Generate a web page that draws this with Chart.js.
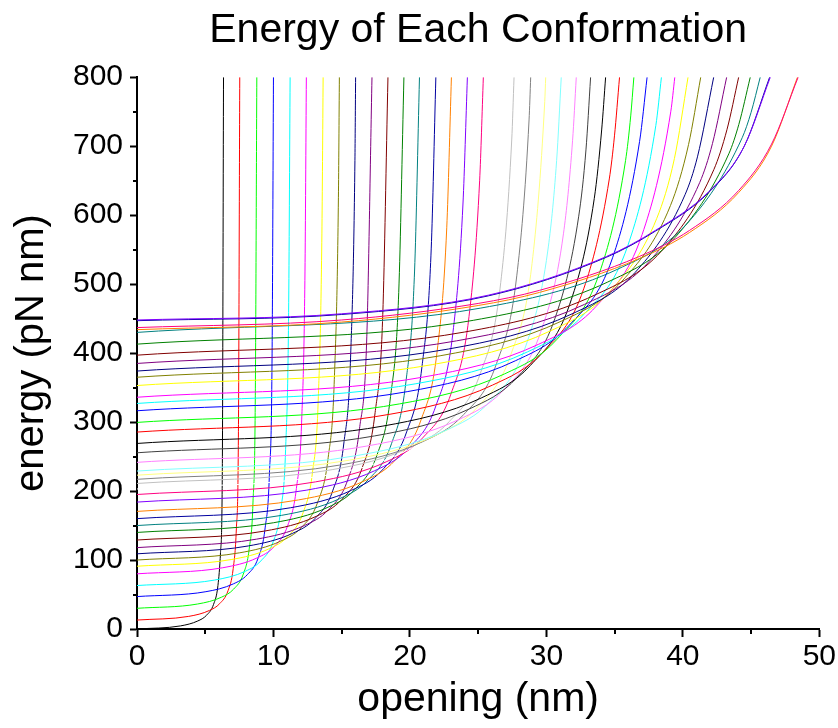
<!DOCTYPE html>
<html>
<head>
<meta charset="utf-8">
<title>Energy of Each Conformation</title>
<script src="https://cdn.jsdelivr.net/npm/chart.js@4.4.1/dist/chart.umd.min.js"></script>
<style>
  html, body { margin: 0; padding: 0; background: #fff; }
  canvas { display: block; }
</style>
</head>
<body>
<canvas id="energy" width="838" height="728"></canvas>
<script>
// energy (pN nm) against opening (nm), one curve per conformation, [opening, energy]
var E01 = [[0,0],[3.19,4.5],[4.46,11.7],[5.10,20.0],[5.61,35.7],[5.93,62.9],[6.12,111],[6.25,223],[6.34,800]];
var E02 = [[0,13],[3.79,18.3],[5.31,26.9],[6.06,36.8],[6.67,55.5],[7.05,87.7],[7.28,145],[7.43,278],[7.53,800]];
var E03 = [[0,30],[4.43,36.2],[6.20,46.2],[7.08,57.8],[7.79,79.6],[8.23,117.3],[8.50,184],[8.67,339],[8.78,800]];
var E04 = [[0,47],[5.05,54.1],[7.07,65.5],[8.08,78.7],[8.89,103.6],[9.39,146.6],[9.70,223],[9.90,400],[10.0,800]];
var E05 = [[0,63],[5.67,70.9],[7.94,83.7],[9.07,98.6],[9.98,126.5],[10.55,174.8],[10.89,260.5],[11.11,459],[11.22,800]];
var E06 = [[0,80],[6.28,88.8],[8.79,103],[10.05,119.4],[11.05,150.3],[11.68,203.8],[12.06,298.8],[12.31,519],[12.41,800]];
var E07 = [[0,91],[6.91,100.7],[9.68,116.3],[11.06,134.4],[12.17,168.5],[12.86,227.4],[13.28,332],[13.55,574],[13.64,800]];
var E08 = [[0,100],[7.53,110.5],[10.54,127.5],[12.05,147.2],[13.25,184.4],[14.01,248.5],[14.46,362],[14.76,626],[14.83,800]];
var E09 = [[0,109],[8.15,120.4],[11.41,138.8],[13.04,160.1],[14.34,200.3],[15.16,269.7],[15.65,393],[15.97,679],[16.02,800]];
var E10 = [[0,118],[8.77,130.3],[12.28,150.1],[14.03,173],[15.44,216.2],[16.31,291],[16.84,423.5],[17.22,800]];
var E11 = [[0,129],[9.38,142.1],[13.13,163.3],[15.01,187.8],[16.51,234.1],[17.45,314],[18.01,455.8],[18.39,800]];
var E12 = [[0,140],[9.99,154],[13.99,176.5],[15.98,202.7],[17.58,251.9],[18.58,337],[19.18,488],[19.56,800]];
var E13 = [[0,150],[10.6,164.8],[14.83,188.8],[16.95,216.5],[18.65,268.7],[19.71,358.9],[20.34,519],[20.7,800]];
var E14 = [[0,160],[11.23,175.7],[15.72,201.1],[17.97,230.4],[19.76,285.8],[20.89,381.5],[21.56,551],[21.9,800]];
var E15 = [[0,170.5],[11.83,187.1],[16.56,213.8],[18.92,244.7],[20.81,303],[22.0,403.7],[22.7,582.5],[23.04,800]];
var E16 = [[0,184],[12.45,201.4],[17.42,229.5],[19.91,262.1],[21.9,323.4],[23.15,429.4],[23.89,617.6],[24.21,800]];
var E17 = [[0,195],[13.08,213.3],[18.31,242.8],[20.93,277],[23.02,341.5],[24.33,453],[25.11,650.7],[25.38,800]];
var E18 = [[0,203],[13.68,222.2],[19.15,253],[21.89,288.8],[24.08,356.2],[25.44,472.8],[26.27,679.6],[26.5,800]];
var E19 = [[0,211],[14.3,231],[20.02,263.3],[22.88,300.7],[25.17,371.2],[26.6,493],[27.46,709],[27.63,800]];
var E20 = [[0,217],[14.97,238],[20.95,271.7],[23.94,310.9],[26.34,384.6],[27.83,512],[28.73,738],[28.85,800]];
var E21 = [[0,223],[15.57,244.8],[21.79,279.9],[24.9,320.6],[27.39,397.4],[28.95,530],[29.88,765],[29.95,800]];
var E22 = [[0,229],[16.19,251.7],[22.66,288.2],[25.9,330.5],[28.49,410.3],[30.1,548],[30.75,679],[31.09,800]];
var E23 = [[0,241.6],[16.8,265.1],[23.52,303.1],[26.88,347],[29.57,429.8],[31.25,572.9],[31.92,708.6],[32.19,800]];
var E24 = [[0,255.5],[17.4,279.9],[24.37,319.2],[27.85,364.7],[30.63,450.5],[32.37,598.5],[32.9,694.6],[33.24,800]];
var E25 = [[0,269],[18.02,294.2],[25.22,334.9],[28.82,382],[31.71,470.8],[33.51,624.3],[34.05,723.5],[34.34,800]];
var E26 = [[0,285.5],[18.61,311.6],[26.05,353.6],[29.78,402.2],[32.75,494],[34.61,652.5],[34.99,715],[35.36,800]];
var E27 = [[0,299.5],[19.25,326.4],[26.94,369.9],[30.79,420.2],[33.87,515.1],[35.8,679],[36.18,743.9],[36.41,800]];
var E28 = [[0,316.4],[19.8,344.1],[27.72,388.8],[31.68,440.6],[34.85,538.2],[36.83,706.9],[37.38,800]];
var E29 = [[0,327],[20.44,355.6],[28.62,401.8],[32.7,455.2],[35.97,556],[38.02,730],[38.43,800]];
var E30 = [[0,336],[21.03,365.4],[29.44,412.9],[33.65,467.9],[37.01,571.6],[39.12,750.7],[39.41,800]];
var E31 = [[0,353],[21.64,383.3],[30.3,432.2],[34.62,488.7],[38.09,595.4],[39.38,682],[40.38,800]];
var E32 = [[0,365],[22.21,396.1],[31.09,446.2],[35.54,504.3],[39.09,613.8],[40.42,702.6],[41.31,800]];
var E33 = [[0,374],[22.82,405.9],[31.95,457.5],[36.51,517.1],[40.16,629.6],[41.07,684.5],[42.26,800]];
var E34 = [[0,385],[23.43,417.8],[32.8,470.7],[37.49,532],[41.24,647.5],[42.17,703.8],[43.21,800]];
var E35 = [[0,397],[24.02,430.6],[33.62,484.8],[38.42,547.6],[42.27,666],[43.23,723.8],[44.09,800]];
var E36 = [[0,413],[24.64,447.5],[34.5,503.1],[39.42,567.5],[43.37,689],[44.1,731.4],[44.94,800]];
var E37 = [[0,430],[25.2,465.3],[35.28,522.2],[40.32,588],[44.35,712.3],[45.0,749],[45.67,800]];
var E38 = [[0,447],[15,456],[25.75,483],[34.4,539],[38,577],[41.9,633],[44.5,700],[46.36,800]];
var E39 = [[0,434],[15,445],[25,469],[29.5,488],[36.8,537],[40.5,575],[44.1,633],[46.5,700],[48.4,800]];
var E40 = [[0,448],[15,457],[25.75,484],[34.4,540],[38,578],[41.9,634],[44.5,700],[46.41,800]];
var E41 = [[0,437],[15,448],[25,472],[29.5,491],[36.8,540],[40.5,578],[44.1,636],[46.5,703],[48.45,800]];

var conformations = [E01,E02,E03,E04,E05,E06,E07,E08,E09,E10,E11,E12,E13,E14,E15,E16,E17,E18,E19,E20,
                     E21,E22,E23,E24,E25,E26,E27,E28,E29,E30,E31,E32,E33,E34,E35,E36,E37,E38,E39,E40,E41];

var xTicks = [0, 10, 20, 30, 40, 50];
var yTicks = [0, 100, 200, 300, 400, 500, 600, 700, 800];
var xMinor = [5, 15, 25, 35, 45];
var yMinor = [50, 150, 250, 350, 450, 550, 650, 750];

// the usual 24-colour plot cycle
var palette = ['#000000','#FF0000','#00FF00','#0000FF','#00FFFF','#FF00FF','#FFFF00','#808000',
               '#000080','#800080','#800000','#008000','#008080','#0000A0','#FF8000','#8000FF',
               '#FF0080','#FFFFFF','#C0C0C0','#808080','#FFFF80','#80FFFF','#FF80FF','#404040'];

var FONT = "'Liberation Sans', Arial, sans-serif";

var datasets = conformations.map(function(pts, i) {
	return {
		data: pts.map(function(p) { return {x: p[0], y: p[1]}; }),
		showLine: true,
		borderColor: palette[i % palette.length],
		borderWidth: 1,
		pointRadius: 0,
		fill: false,
		cubicInterpolationMode: 'monotone',
		order: conformations.length - i   // later curves sit on top
	};
});

// short unlabelled ticks between the numbered ones
var minorTicks = {
	id: 'minorTicks',
	afterDraw: function(chart) {
		var c = chart.ctx, x = chart.scales.x, y = chart.scales.y;
		c.save();
		c.strokeStyle = '#000';
		c.lineWidth = 2;
		xMinor.forEach(function(v) {
			var px = Math.round(x.getPixelForValue(v));
			c.beginPath(); c.moveTo(px, y.bottom); c.lineTo(px, y.bottom + 5); c.stroke();
		});
		yMinor.forEach(function(v) {
			var py = Math.round(y.getPixelForValue(v));
			c.beginPath(); c.moveTo(x.left, py); c.lineTo(x.left - 4, py); c.stroke();
		});
		c.restore();
	}
};

new Chart(document.getElementById('energy').getContext('2d'), {
	type: 'scatter',
	data: { datasets: datasets },
	plugins: [minorTicks],
	options: {
		responsive: false,
		animation: false,
		layout: { padding: { left: 0, right: 0, top: 0, bottom: 0 } },
		plugins: {
			legend: { display: false },
			tooltip: { enabled: false },
			title: {
				display: true,
				fullSize: false,          // centre over the plot, not the canvas
				text: 'Energy of Each Conformation',
				color: '#000',
				font: { family: FONT, size: 41, weight: 'normal' },
				padding: { top: 6, bottom: 22 }
			}
		},
		scales: {
			x: {
				type: 'linear',
				min: 0, max: 50,
				afterBuildTicks: function(s) { s.ticks = xTicks.map(function(v) { return {value: v}; }); },
				ticks: { color: '#000', font: { family: FONT, size: 30 }, padding: 2, maxRotation: 0 },
				grid: { drawOnChartArea: false, drawTicks: true, tickLength: 8, tickWidth: 2, tickColor: '#000' },
				border: { display: true, color: '#000', width: 2 },
				title: { display: true, text: 'opening (nm)', color: '#000',
				         font: { family: FONT, size: 41 }, padding: { top: 0, bottom: 4 } },
				afterFit: function(s) { s.height = 99; }
			},
			y: {
				type: 'linear',
				min: 0, max: 800,
				afterBuildTicks: function(s) { s.ticks = yTicks.map(function(v) { return {value: v}; }); },
				ticks: { color: '#000', font: { family: FONT, size: 30 }, padding: 7 },
				grid: { drawOnChartArea: false, drawTicks: true, tickLength: 7, tickWidth: 2, tickColor: '#000' },
				border: { display: true, color: '#000', width: 2 },
				title: { display: true, text: 'energy (pN nm)', color: '#000',
				         font: { family: FONT, size: 40 }, padding: { top: 8, bottom: 0 } },
				afterFit: function(s) { s.width = 137; }
			}
		}
	}
});
</script>
</body>
</html>
